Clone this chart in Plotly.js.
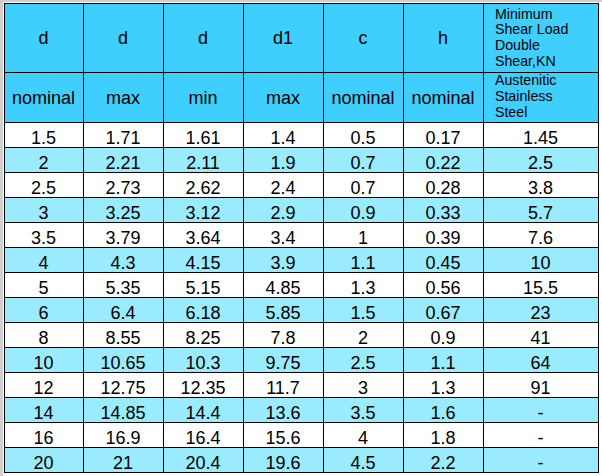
<!DOCTYPE html>
<html>
<head>
<meta charset="utf-8">
<script src="https://cdn.plot.ly/plotly-3.0.1.min.js"></script>
<style>html,body{margin:0;padding:0;background:#fff;}#chart{width:602px;height:476px;}</style>
</head>
<body>
<div id="chart"></div>
<script>
// ---- data ----
var headerTop = ["d", "d", "d", "d1", "c", "h"];
var headerSub = ["nominal", "max", "min", "max", "nominal", "nominal"];
var shearTitle = ["Minimum", "Shear Load", "Double", "Shear,KN"];
var shearSub = ["Austenitic", "Stainless", "Steel"];

var dNominal = ["1.5", "2", "2.5", "3", "3.5", "4", "5", "6", "8", "10", "12", "14", "16", "20"];
var dMax = ["1.71", "2.21", "2.73", "3.25", "3.79", "4.3", "5.35", "6.4", "8.55", "10.65", "12.75", "14.85", "16.9", "21"];
var dMin = ["1.61", "2.11", "2.62", "3.12", "3.64", "4.15", "5.15", "6.18", "8.25", "10.3", "12.35", "14.4", "16.4", "20.4"];
var d1Max = ["1.4", "1.9", "2.4", "2.9", "3.4", "3.9", "4.85", "5.85", "7.8", "9.75", "11.7", "13.6", "15.6", "19.6"];
var cNominal = ["0.5", "0.7", "0.7", "0.9", "1", "1.1", "1.3", "1.5", "2", "2.5", "3", "3.5", "4", "4.5"];
var hNominal = ["0.17", "0.22", "0.28", "0.33", "0.39", "0.45", "0.56", "0.67", "0.9", "1.1", "1.3", "1.6", "1.8", "2.2"];
var shearLoad = ["1.45", "2.5", "3.8", "5.7", "7.6", "10", "15.5", "23", "41", "64", "91", "-", "-", "-"];

// ---- style / layout ----
var W = 602, H = 476;
var HEAD = "#3ecfff", LIGHT = "#9aebfd";
var FONT = "Liberation Sans, Arial, sans-serif";
var colWidths = [79, 80, 80, 80, 80, 80, 115];
var xDom = [4 / W, 598 / W];
var nCols = colWidths.length;
function blank() { var a = []; for (var i = 0; i < nCols; i++) a.push(""); return a; }
var noHeader = {values: blank(), height: 0, line: {width: 0, color: "rgba(0,0,0,0)"}, fill: {color: "rgba(0,0,0,0)"}};

// frame for the two header rows
var frame = {
  type: "table", domain: {x: xDom, y: [1 - 126 / H, 1 - 3 / H]}, columnwidth: colWidths,
  header: {values: blank(), height: 69, fill: {color: HEAD}, line: {color: "black", width: 1}},
  cells: {values: blank().map(function () { return [""]; }), height: 50, fill: {color: HEAD}, line: {color: "black", width: 1}}
};

// data rows
var rowColors = dNominal.map(function (_, i) { return i % 2 ? LIGHT : "white"; });
var body = {
  type: "table", domain: {x: xDom, y: [0, 1 - 122 / H]}, columnwidth: colWidths,
  header: noHeader,
  cells: {
    values: [dNominal, dMax, dMin, d1Max, cNominal, hNominal, shearLoad],
    height: 25, align: "center",
    fill: {color: [rowColors]}, line: {color: "black", width: 1},
    font: {family: FONT, size: 18, color: "black"}
  }
};

// header texts (fine 1px rows so each line lands at its place)
var nRows = 110;
var grid = []; for (var c = 0; c < nCols; c++) { var col = []; for (var r = 0; r < nRows; r++) col.push(""); grid.push(col); }
var off18 = 23, offSmall = 20;
var topBase = 45, subBase = 105;
var shearTitleBase = [19, 35, 51, 67], shearSubBase = [86, 102, 118];
function put(c, base, off, txt) { var r = Math.max(0, Math.round(base - off)); grid[c][r] = txt; }
headerTop.forEach(function (t, i) { put(i, topBase, off18, t); });
headerSub.forEach(function (t, i) { put(i, subBase, off18, t); });
shearTitle.forEach(function (t, i) { put(6, shearTitleBase[i], offSmall, "\u00a0" + t.replace(/ /g, "\u00a0")); });
shearSub.forEach(function (t, i) { put(6, shearSubBase[i], offSmall, "\u00a0" + t.replace(/ /g, "\u00a0")); });
var headText = {
  type: "table", domain: {x: xDom, y: [0, 1]}, columnwidth: colWidths,
  header: noHeader,
  cells: {
    values: grid, height: 1,
    align: ["center", "center", "center", "center", "center", "center", "left"],
    fill: {color: "rgba(0,0,0,0)"}, line: {width: 0, color: "rgba(0,0,0,0)"},
    font: {family: FONT, size: [18, 18, 18, 18, 18, 18, 14.2], color: "black"}
  }
};

var layout = {
  width: W, height: H, margin: {l: 0, r: 0, t: 0, b: 0},
  paper_bgcolor: "white", showlegend: false,
  shapes: [
    {type: "rect", xref: "paper", yref: "paper", x0: 0, x1: 3 / W, y0: 0, y1: 1, fillcolor: "#d0d0d0", line: {width: 0}},
    {type: "rect", xref: "paper", yref: "paper", x0: 0, x1: 1, y0: 1 - 2 / H, y1: 1, fillcolor: "#d0d0d0", line: {width: 0}}
  ]
};

Plotly.newPlot("chart", [frame, body, headText], layout, {staticPlot: true, displayModeBar: false});
</script>
</body>
</html>
